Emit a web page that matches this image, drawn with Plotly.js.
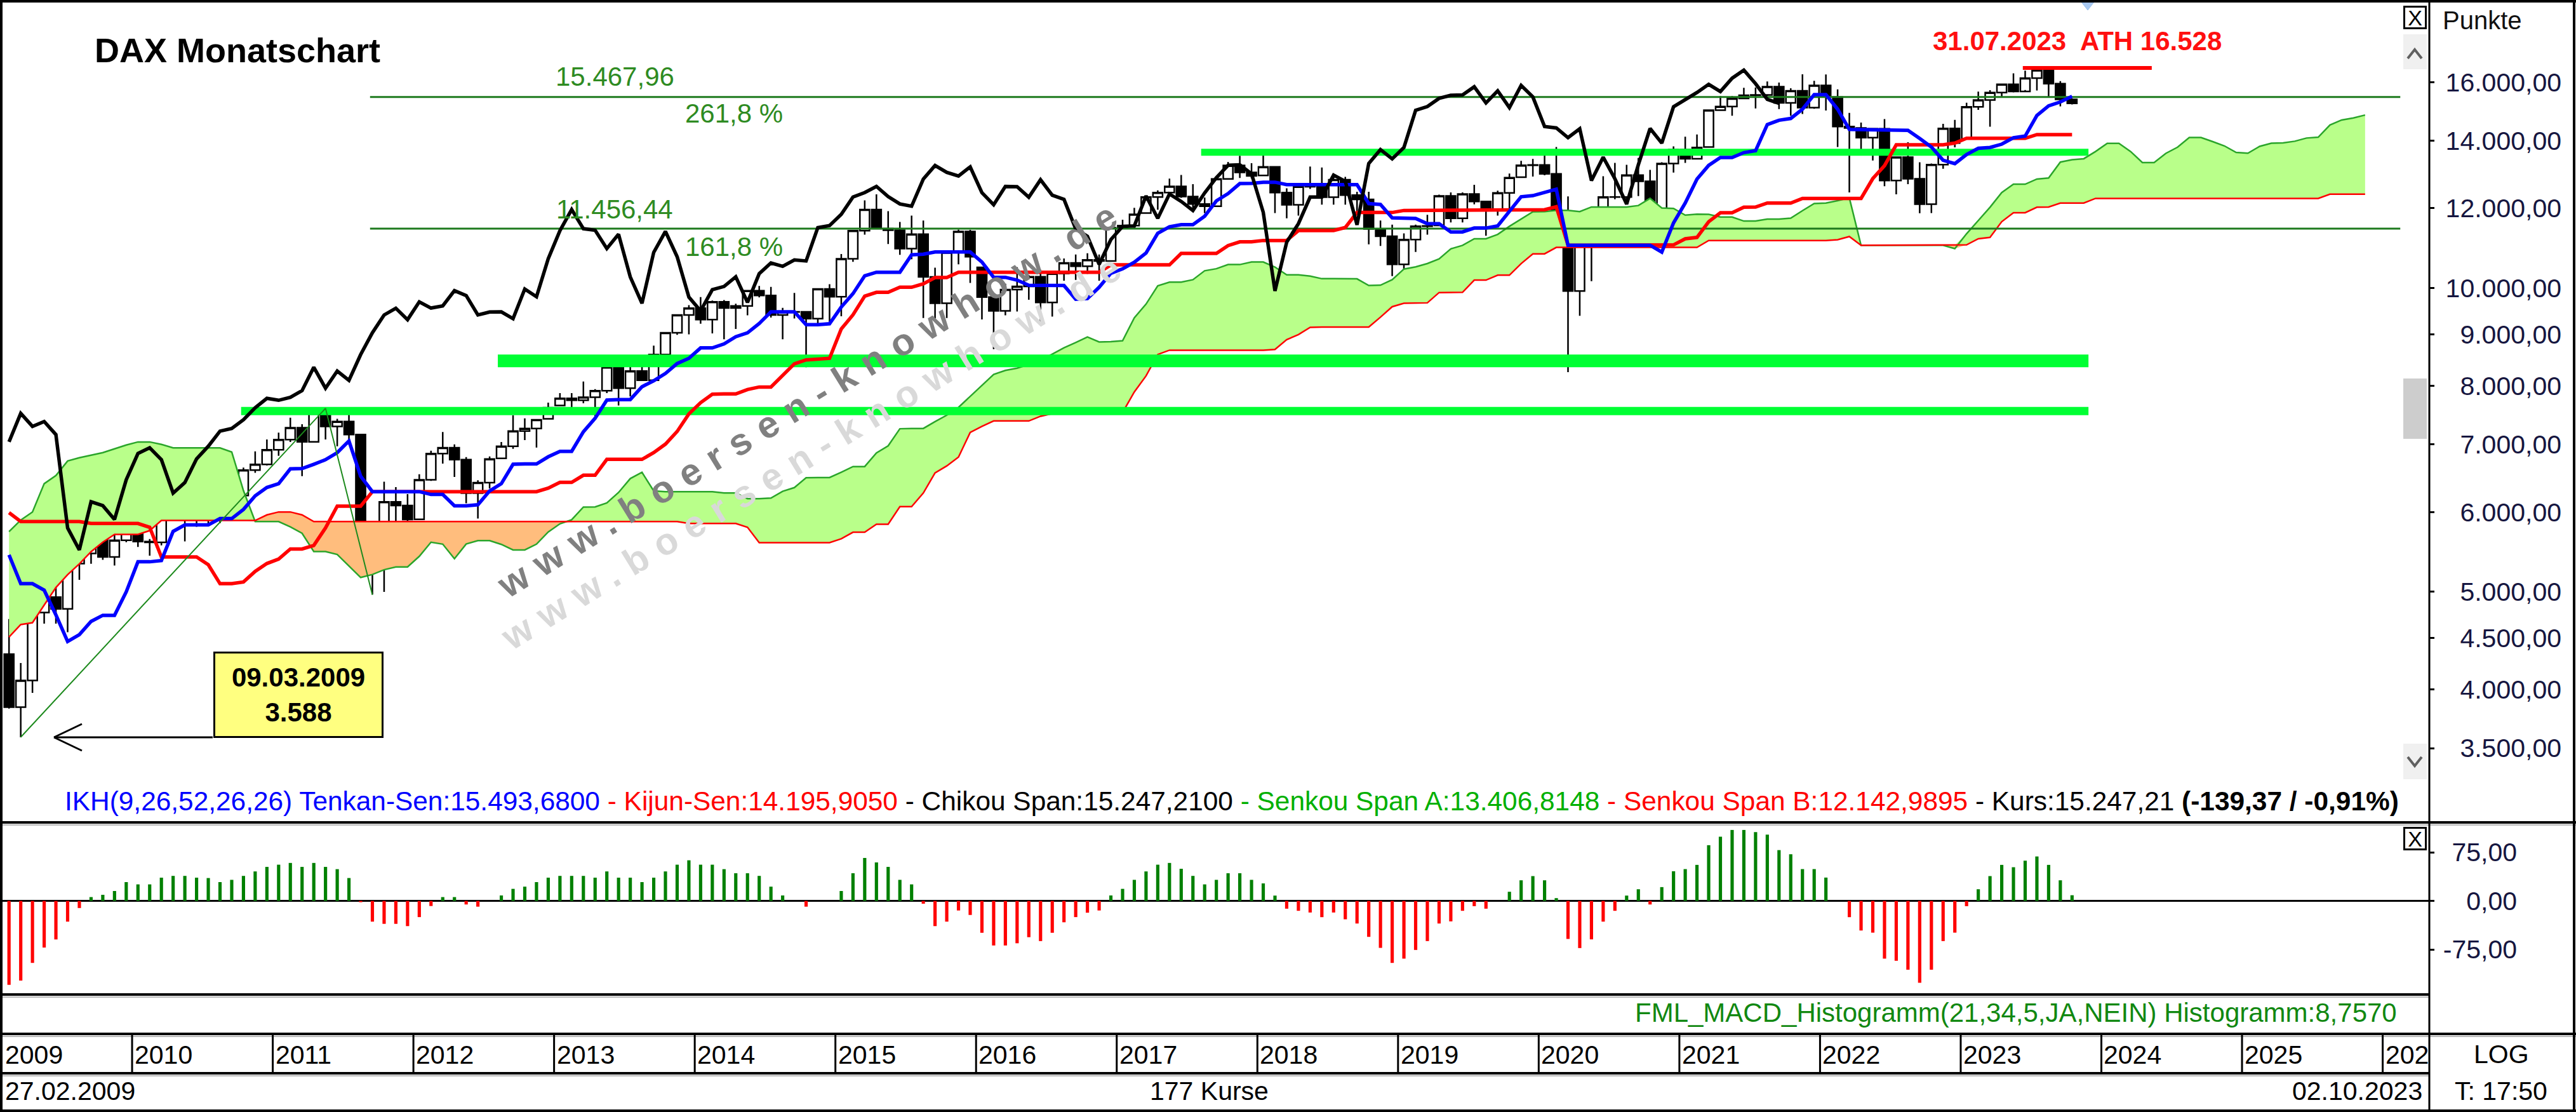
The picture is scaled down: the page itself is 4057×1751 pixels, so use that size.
<!DOCTYPE html>
<html><head><meta charset="utf-8">
<script src="https://cdn.plot.ly/plotly-3.0.1.min.js"></script>
<style>html,body{margin:0;padding:0;background:#fff;}#chart{width:4057px;height:1751px;}</style>
</head><body><div id="chart"></div>
<script>
// ---------- DATA (monthly DAX, Feb 2009 .. Oct 2023, 177 bars) ----------
const opens = [4338,3843,4085,4770,4941,4809,5332,5458,5675,5414,5625,
5957,5608,5598,6154,6136,5965,5966,6148,5925,6229,6601,6688,
6914,7077,7272,7041,7514,7294,7376,7159,5785,5502,6141,6088,
5900,6458,6856,6947,6761,6264,6416,6780,6971,7216,7260,7420,
7650,7776,7742,7795,7914,8349,7959,8276,8103,8594,9033,9406,
9552,9306,9692,9556,9603,9943,9833,9407,9470,9474,9327,9980,
9806,10694,11402,11966,11454,11414,10945,11309,10259,9660,10850,11382,
10485,9798,9495,9966,10039,10263,9680,10337,10593,10511,10665,10640,
11481,11535,11870,12313,12438,12615,12325,12118,12056,12829,13230,13024,
12935,13189,12436,12097,12612,12605,12306,12806,12364,12247,11448,11257,
10559,11173,11516,11540,12344,11727,12399,12189,11939,12428,12880,13236,
13249,12982,11890,9936,11107,11587,12311,12313,12945,12761,11560,13291,
13719,13433,13800,15008,15136,15421,15531,15544,15835,15261,15689,15100,
15885,15471,14461,14415,14098,14388,12784,13484,12835,12114,13254,14397,
14070,15128,15365,15629,15922,15664,16148,16447,15947,15387];
const highs = [4700,4250,4800,5050,5160,5340,5480,5760,5890,5810,6030,
6150,5640,6180,6340,6200,6330,6210,6390,6290,6640,6890,7080,
7190,7440,7330,7530,7600,7420,7520,7160,5880,6430,6350,6250,
6540,6900,7200,7000,6800,6450,6810,7040,7480,7430,7410,7700,
7870,7870,8080,7940,8560,8430,8400,8560,8770,9040,9420,9620,
9800,9720,9730,9650,9960,10050,10030,9560,9890,9480,9980,10090,
10810,11410,12220,12390,11920,11630,11800,11670,10480,10850,11430,11420,
10490,9880,10100,10490,10300,10430,10350,10700,10800,10830,10800,11490,
11690,12010,12320,12500,12840,12950,12680,12300,12830,13340,13530,13300,
13600,13210,12560,12660,13200,13170,12890,12890,12460,12460,11670,11560,
11330,11560,11820,12380,12440,12440,12660,12190,12490,12990,13370,13430,
13640,13800,12330,11230,11750,12910,13310,13250,13460,13100,13330,13820,
14130,14200,15020,15500,15500,15800,15810,16030,15990,15780,16290,16050,
16285,15740,14920,14590,14400,14710,13510,13950,13330,13290,14550,14680,
15270,15660,15710,15925,16330,16430,16529,16480,16040,15420];
const lows = [3830,3588,3970,4650,4650,4560,5140,5330,5380,5310,5600,
5540,5430,5560,5940,5610,5800,5810,5850,5920,6140,6560,6670,
6820,7040,6510,7030,7080,6970,7060,5420,4970,5000,5390,5600,
5900,6440,6700,6500,6120,5910,6330,6780,6930,7070,6950,7410,
7640,7520,7690,7420,7870,7650,7810,8100,8100,8400,8990,9000,
9220,9020,8900,9110,9400,9790,9350,8900,9330,8350,9190,9220,
9380,10620,11300,11440,11060,10790,10680,9340,9330,9340,10560,10120,
9310,8700,9400,9480,9740,9210,9370,10170,10190,10330,10170,10620,
11460,11480,11860,11960,12420,12290,12010,11870,12040,12810,12860,12850,
12930,11870,11730,11800,12540,12100,12100,12100,11870,11050,11010,10280,
10390,10860,11300,11540,11620,11620,12110,11270,11800,11940,12880,12900,
12940,11720,8256,9390,10160,11570,12250,12250,12340,11450,11560,13020,
13310,13430,13800,15000,14820,15400,15070,15500,15050,14820,14880,15060,
15000,13800,12440,13630,13380,12620,12390,12680,11863,11870,13130,13790,
14060,15020,14458,15480,15630,15720,15700,15460,15140,15210];
const closes = [3843,4085,4770,4941,4809,5332,5458,5675,5414,5625,5957,
5608,5598,6154,6136,5965,5966,6148,5925,6229,6601,6688,6914,
7077,7272,7041,7514,7294,7376,7159,5785,5502,6141,6088,5898,
6458,6856,6947,6761,6264,6416,6772,6971,7216,7260,7405,7612,
7776,7742,7795,7914,8349,7959,8276,8103,8594,9033,9406,9552,
9306,9692,9556,9603,9943,9833,9407,9470,9474,9327,9980,9806,
10694,11402,11966,11454,11414,10945,11309,10259,9660,10850,11382,10743,
9798,9495,9966,10039,10263,9680,10337,10593,10511,10665,10640,11481,
11535,11834,12313,12438,12615,12325,12118,12056,12829,13230,13024,12918,
13189,12436,12097,12612,12605,12306,12806,12364,12247,11448,11257,10559,
11173,11516,11526,12344,11727,12399,12189,11939,12428,12867,13236,13249,
12982,11890,9936,11107,11587,12311,12313,12945,12761,11556,13291,13719,
13433,13786,15008,15136,15421,15531,15544,15835,15261,15689,15100,15885,
15471,14461,14415,14098,14388,12784,13484,12835,12114,13254,14397,13924,
15128,15365,15629,15922,15664,16148,16447,15947,15387,15247];

const tenkan = [5440,5094,5094,5019,4744,4464,4534,4674,4739,4739,5000,
5355,5355,5370,5740,5825,5825,5825,5910,5910,6035,6225,6345,
6400,6620,6625,6690,6760,6870,7055,6510,6285,6285,6285,6285,
6285,6245,6245,6085,6085,6100,6295,6400,6690,6695,6695,6805,
6890,6890,7205,7430,7745,7755,7755,7985,8095,8230,8420,8520,
8725,8725,8805,8950,9030,9225,9475,9475,9475,9200,9200,9220,
9580,9875,10285,10370,10370,10370,10790,10805,10860,10860,10860,10860,
10615,10250,10250,10185,10065,10065,10065,10060,9750,9765,10020,10345,
10450,10610,10835,11335,11505,11560,11560,11785,12205,12410,12695,12700,
12735,12735,12665,12665,12665,12665,12665,12665,12665,12130,12105,11740,
11740,11725,11585,11585,11370,11370,11470,11470,11525,11925,12320,12350,
12455,12535,11028,11028,11028,11028,11028,11028,11028,11028,10858,11605,
12145,12825,13235,13475,13475,13625,13685,14525,14670,14730,15045,15555,
15555,15045,14365,14365,14365,14365,14340,14338,14074,13800,13390,13285,
13565,13760,13785,13890,14095,14150,14830,15160,15295,15494];
const kijun = [5990,5870,5870,5870,5870,5870,5870,5844,5844,5844,5844,
5844,5794,5414,5414,5414,5414,5319,5094,5094,5114,5239,5334,
5389,5514,5514,5559,5785,6080,6080,6080,6285,6285,6285,6285,
6285,6285,6285,6285,6285,6285,6285,6285,6285,6285,6285,6335,
6420,6420,6525,6525,6765,6765,6765,6765,6870,7005,7210,7505,
7700,7850,7855,7855,7935,7980,7980,8190,8415,8490,8500,8520,
9110,9410,9820,9905,9905,10020,10020,10100,10245,10245,10370,10370,
10370,10370,10370,10370,10370,10370,10370,10370,10370,10370,10370,10545,
10545,10545,10545,10545,10545,10825,10825,10825,10825,11020,11115,11115,
11150,11150,11150,11405,11405,11405,11405,11485,11885,11885,11885,11885,
11940,11940,11940,11940,11940,11940,11940,11940,11940,11940,11940,11940,
11960,12040,11028,11028,11028,11028,11028,11028,11028,11028,11028,11038,
11193,11228,11638,11878,11878,12028,12033,12143,12143,12143,12273,12273,
12273,12273,12273,12273,12840,13225,13870,13870,13870,13870,13870,13925,
14077,14077,14077,14077,14077,14077,14196,14196,14196,14196];
// Senkou spans, drawn 25 bars ahead (202 positions)
const senkouA = [5737,5890,6000,6400,6520,6740,6790,6830,6870,6930,6990,7040,7040,7000,6945,6945,6945,6945,6945,6880,6300,5870,5870,5870,5800,
5715,5482,5482,5445,5307,5167,5202,5259,5292,5292,
5422,5600,5575,5392,5577,5620,5620,5572,5502,5502,
5575,5732,5840,5895,6067,6070,6125,6273,6475,6568,
6295,6285,6285,6285,6285,6285,6265,6265,6185,6185,
6193,6290,6343,6488,6490,6490,6570,6655,6655,6865,
6978,7255,7260,7260,7375,7483,7618,7815,8013,8213,
8288,8330,8403,8483,8603,8728,8833,8945,8845,8850,
8870,9345,9643,10053,10138,10138,10195,10405,10453,10553,
10553,10615,10615,10493,10310,10310,10278,10218,10218,10218,
10215,10060,10068,10195,10445,10498,10578,10690,10940,11025,
11193,11193,11305,11515,11715,11905,11908,11943,11943,11908,
12035,12035,12035,12035,12075,12275,12008,11995,11813,11840,
11833,11763,11763,11655,11655,11705,11705,11733,11933,12130,
12145,12208,12288,11028,11028,11028,11028,11028,11028,11028,
11028,10943,11322,11669,12027,12437,12677,12677,12827,12859,
13334,13407,13437,13659,13914,13914,13659,13319,13319,13603,
13795,14105,14104,13972,13835,13630,13605,13821,13919,13931,
13984,14086,14114,14513,14678,14746,14845];
const senkouB = [4510,4640,4660,4850,5050,5200,5330,5480,5600,5700,5700,5700,5750,5885,5885,5885,5885,5885,5885,5885,5885,5885,5960,6000,6000,5960,
5870,5870,5870,5870,5870,5870,5870,5870,
5870,5870,5870,5870,5870,5870,5870,5870,
5870,5870,5870,5870,5870,5870,5870,5870,
5870,5870,5870,5870,5870,5870,5870,5870,
5844,5844,5844,5844,5844,5794,
5594,5594,5594,5594,5594,5594,5594,
5644,5729,5729,5834,5834,6074,6074,6265,
6560,6665,6800,7195,7295,7385,7385,7385,7385,7465,
7510,7510,7510,7510,7510,7510,
7530,7890,8185,8595,
8680,8680,8680,8680,8680,8680,8680,8680,8680,
8695,8890,8995,9145,
9150,9150,9150,9150,9150,
9360,9585,9660,9670,9670,9900,9905,9905,10185,10185,10300,10300,10575,10815,10815,
10975,10975,10975,10975,10975,10975,10975,10975,10975,10975,10975,10975,10975,
11150,11150,11150,11150,11150,11150,11150,11150,11150,11150,11150,
11170,11250,
11028,11028,11028,11028,11028,11028,11028,11028,11028,
11038,11193,11228,11638,11878,11878,12028,12033,
12143,12143,12143,
12273,12273,12273,12273,12273,12273,12273,12273,12273,12273,
12273,12273,12273,12273,12273,12273,12273,12273,12273,12273,
12392,12392,12392,12392];
// FML_MACD histogram (21,34,5)
const macdHist = [-129.5,-123,-95.7,-72,-59.5,-32,-11,5.9,9.4,15.3,29,
25.5,25.5,35.9,38.6,38.6,35.9,35.3,29,32.5,38.6,45.5,52.5,
55.9,58.6,52.5,58.6,52.5,49,35.3,-2,-32,-35.4,-35.4,-38.9,
-25,-7.9,5.9,5.9,-5.5,-8.9,0,8.4,18.6,22,29,35.9,
38.6,38.6,38.6,35.9,45.5,35.9,35.9,29,35.9,45.5,55.9,62.7,
55.9,55.9,49,42.7,42.7,38.6,22,8.4,0,-8.9,0,0,
15.3,42.7,66.3,59.4,52.5,32.5,25.5,-4.3,-38.9,-32,-14.8,-21.7,
-49.2,-68.8,-68.8,-65.4,-56,-62,-49.2,-33,-25,-18.2,-14.8,8.4,
18.6,32.5,45.5,55.9,58.6,49.6,38.6,25.5,32.5,42.7,42.7,32.5,
27,8.2,-12,-15.3,-17.9,-25.1,-17.9,-28.4,-34.9,-55.5,-72.5,-95.7,
-89.1,-75.7,-62,-34.9,-31.6,-15.3,-8.1,-12,0,14.1,31.8,38.3,
31.8,4.3,-58.7,-72.8,-59.4,-32,-15.3,8.2,18,-5.5,21.3,45.8,
49.1,55.6,86,99.1,109.5,109.5,106.2,102.3,78.4,72,49.1,49.1,
36,0,-25.1,-45.7,-49,-89.1,-92.4,-106.2,-126.4,-106.2,-62,-49,
-8.1,18,38.3,55.6,52,62.1,68.6,55.6,31.8,8.76];

// horizontal levels
const bandLevels = [13635, 8470, 7555];
const bandFrom = [101.7, 41.7, 19.8];
const bandTo = [177.4, 177.4, 177.4];
const fibLevels = [15467.96, 11456.44];
const fibValueText = ['15.467,96', '11.456,44'];
const fibPctText = ['261,8 %', '161,8 %'];
const fibFrom = 30.8, fibTo = 204.0;
const athLevel = 16528, athFrom = 171.8, athTo = 182.8;
const zigX = [1, 27, 31];
const zigY = [3588.89, 7600.41, 4965.80];

const yTickVals = [3500,4000,4500,5000,6000,7000,8000,9000,10000,12000,14000,16000];
const yTickText = ['3.500,00','4.000,00','4.500,00','5.000,00','6.000,00','7.000,00','8.000,00','9.000,00','10.000,00','12.000,00','14.000,00','16.000,00'];
const macdTickVals = [-75, 0, 75];
const macdTickText = ['-75,00', '0,00', '75,00'];
const years = ['2009','2010','2011','2012','2013','2014','2015','2016','2017','2018','2019','2020','2021','2022','2023','2024','2025','202'];

// ---------- GEOMETRY / STYLE ----------
const W = 4057, H = 1751;
const PX = v => v / W, PY = v => 1 - v / H;
const XR = [-0.5525, 206.479];
const FONT = 'Liberation Sans, Arial, Helvetica, sans-serif';

const candleX = closes.map((_, i) => i);
const cloudX = senkouA.map((_, j) => j);
const chikouY = closes.slice(25);
const chikouX = chikouY.map((_, k) => k);
const cloudUpper = senkouA.map((a, j) => Math.max(a, senkouB[j]));
const cloudLower = senkouA.map((a, j) => Math.min(a, senkouB[j]));

const base = {type: 'scatter', mode: 'lines', hoverinfo: 'skip', showlegend: false, xaxis: 'x', yaxis: 'y'};
const clear = {width: 0, color: 'rgba(0,0,0,0)'};
const traces = [];
traces.push(Object.assign({}, base, {x: cloudX, y: senkouB, line: clear}));
traces.push(Object.assign({}, base, {x: cloudX, y: cloudUpper, fill: 'tonexty', fillcolor: '#b9ff8a', line: clear}));
traces.push(Object.assign({}, base, {x: cloudX, y: senkouB, line: clear}));
traces.push(Object.assign({}, base, {x: cloudX, y: cloudLower, fill: 'tonexty', fillcolor: '#ffbd7d', line: clear}));
traces.push(Object.assign({}, base, {x: cloudX, y: senkouA, line: {color: '#2aa52a', width: 2.5}}));
traces.push(Object.assign({}, base, {x: cloudX, y: senkouB, line: {color: '#ff0000', width: 2.5}}));
const bandWidthPx = [11, 20, 13];
bandLevels.forEach((lv, k) => traces.push(Object.assign({}, base, {x: [bandFrom[k], bandTo[k]], y: [lv, lv], line: {color: '#00ff33', width: bandWidthPx[k]}})));
fibLevels.forEach(lv => traces.push(Object.assign({}, base, {x: [fibFrom, fibTo], y: [lv, lv], line: {color: '#1d7a1d', width: 3}})));
traces.push({type: 'candlestick', x: candleX, open: opens, high: highs, low: lows, close: closes,
  increasing: {line: {color: '#000', width: 2.5}, fillcolor: '#ffffff'},
  decreasing: {line: {color: '#000', width: 2.5}, fillcolor: '#000000'},
  whiskerwidth: 0, hoverinfo: 'skip', showlegend: false, xaxis: 'x', yaxis: 'y'});
traces.push(Object.assign({}, base, {x: candleX, y: kijun, line: {color: '#ff0000', width: 5.5}}));
traces.push(Object.assign({}, base, {x: candleX, y: tenkan, line: {color: '#0000ff', width: 5.5}}));
traces.push(Object.assign({}, base, {x: chikouX, y: chikouY, line: {color: '#000000', width: 5.5}}));
traces.push(Object.assign({}, base, {x: zigX, y: zigY, line: {color: '#1d8a1d', width: 2}}));
traces.push(Object.assign({}, base, {x: [athFrom, athTo], y: [athLevel, athLevel], line: {color: '#ff0000', width: 6}}));
traces.push({type: 'bar', x: candleX, y: macdHist, width: 0.28,
  marker: {color: macdHist.map(v => v >= 0 ? '#008000' : '#ff0000'), line: {width: 0}},
  hoverinfo: 'skip', showlegend: false, xaxis: 'x2', yaxis: 'y2'});
traces.push({type: 'scatter', mode: 'lines', x: [], y: [], xaxis: 'x', yaxis: 'y3', showlegend: false});
traces.push({type: 'scatter', mode: 'lines', x: [], y: [], xaxis: 'x2', yaxis: 'y4', showlegend: false});

// ---------- SHAPES ----------
const shapes = [];
const hline = (x0, x1, y, w, c) => shapes.push({type: 'line', xref: 'paper', yref: 'paper', x0: PX(x0), x1: PX(x1), y0: PY(y), y1: PY(y), line: {color: c, width: w}});
const vline = (x, y0, y1, w, c) => shapes.push({type: 'line', xref: 'paper', yref: 'paper', x0: PX(x), x1: PX(x), y0: PY(y0), y1: PY(y1), line: {color: c, width: w}});
const rect = (x0, y0, x1, y1, fill, lc, lw) => shapes.push({type: 'rect', xref: 'paper', yref: 'paper', x0: PX(x0), x1: PX(x1), y0: PY(y1), y1: PY(y0), fillcolor: fill, line: {color: lc, width: lw}, layer: 'above'});
const path = (pts, stroke, w, fill) => shapes.push({type: 'path', xref: 'paper', yref: 'paper', path: 'M' + pts.map(p => PX(p[0]) + ',' + PY(p[1])).join(' L') + (fill ? ' Z' : ''), line: {color: stroke, width: w}, fillcolor: fill || 'rgba(0,0,0,0)', layer: 'above'});

// scroll widgets & close boxes
rect(3785, 54, 3822, 109, '#f0f0f0', '#f0f0f0', 0);
path([[3792, 92], [3803, 78], [3814, 92]], '#606060', 4);
rect(3785, 596, 3822, 691, '#cdcdcd', '#cdcdcd', 0);
rect(3785, 1171, 3822, 1227, '#f0f0f0', '#f0f0f0', 0);
path([[3792, 1192], [3803, 1206], [3814, 1192]], '#606060', 4);
path([[3277, 2], [3299, 2], [3288, 16]], '#9cc3ee', 1, '#a8c8f0');
// arrow to the March-2009 low
hline(85, 335, 1161, 3, '#000');
shapes.push({type: 'line', xref: 'paper', yref: 'paper', x0: PX(85), y0: PY(1161), x1: PX(129), y1: PY(1140), line: {color: '#000', width: 3}});
shapes.push({type: 'line', xref: 'paper', yref: 'paper', x0: PX(85), y0: PY(1161), x1: PX(129), y1: PY(1182), line: {color: '#000', width: 3}});
// frame & separators
hline(0, W, 1299, 2, '#b8b8b8');
hline(0, 3826, 1570, 2, '#b8b8b8');
hline(0, W, 1632, 2, '#b8b8b8');
hline(0, 3826, 1694, 2, '#b8b8b8');
hline(0, W, 1295, 4, '#000');
hline(0, 3826, 1566, 4, '#000');
hline(0, W, 1628, 4, '#000');
hline(0, 3826, 1690, 4, '#000');
hline(0, W, 2, 4, '#000');
hline(0, W, 1749, 4, '#000');
vline(2, 0, H, 4, '#000');
vline(4054, 0, H, 4, '#000');
vline(3826, 0, H, 3, '#000');
// year dividers
years.forEach((yr, k) => {
  const b = 12 * k - 1.5;
  if (b > XR[0]) shapes.push({type: 'line', xref: 'x', yref: 'paper', x0: b, x1: b, y0: PY(1690), y1: PY(1628), line: {color: '#000', width: 3}});
});

// ---------- ANNOTATIONS ----------
const annotations = [];
const ann = (text, x, y, o) => annotations.push(Object.assign({text: text, xref: 'paper', yref: 'paper', x: PX(x), y: PY(y), showarrow: false, xanchor: 'center', yanchor: 'middle', font: {family: FONT, size: 41, color: '#000'}}, o || {}));
ann('<b>DAX Monatschart</b>', 147, 79, {xanchor: 'left', font: {family: FONT, size: 54, color: '#000'}});
ann(fibValueText[0], 968, 120, {font: {family: FONT, size: 42, color: '#2e8b22'}});
ann(fibPctText[0], 1156, 178, {font: {family: FONT, size: 42, color: '#2e8b22'}});
ann(fibValueText[1], 968, 330, {font: {family: FONT, size: 42, color: '#2e8b22'}});
ann(fibPctText[1], 1156, 388, {font: {family: FONT, size: 42, color: '#2e8b22'}});
ann('<b>31.07.2023  ATH 16.528</b>', 3271, 65, {font: {family: FONT, size: 42, color: '#ff1010'}});
ann('<b>09.03.2009</b><br><b>3.588</b>', 469.5, 1093.5, {width: 262, height: 130, bgcolor: '#ffff80', bordercolor: '#000', borderwidth: 3, borderpad: 0, font: {family: FONT, size: 42, color: '#000'}});
ann('www.boersen-knowhow.de', 1285, 708, {textangle: -31.5, font: {family: FONT, size: 59, color: '#d9d9d9', weight: 'bold'}});
ann('www.boersen-knowhow.de', 1279, 626, {textangle: -31.5, font: {family: FONT, size: 59, color: '#808080', weight: 'bold'}});
ann('<span style="color:#0000ff">IKH(9,26,52,26,26) Tenkan-Sen:15.493,6800</span><span style="color:#ff0000"> - Kijun-Sen:14.195,9050</span><span style="color:#000000"> - Chikou Span:15.247,2100</span><span style="color:#00b000"> - Senkou Span A:13.406,8148</span><span style="color:#ff0000"> - Senkou Span B:12.142,9895</span><span style="color:#000000"> - Kurs:15.247,21 <b>(-139,37 / -0,91%)</b></span>', 100, 1261, {xanchor: 'left', font: {family: FONT, size: 42.4, color: '#000'}});
ann('FML_MACD_Histogramm(21,34,5,JA,NEIN) Histogramm:8,7570', 3777, 1594, {xanchor: 'right', font: {family: FONT, size: 42, color: '#118811'}});
ann('Punkte', 3845, 32, {xanchor: 'left', font: {family: FONT, size: 40, color: '#111'}});
ann('X', 3803, 27, {width: 31, height: 31, bgcolor: '#fff', bordercolor: '#000', borderwidth: 3, borderpad: 0, font: {family: FONT, size: 34, color: '#000'}});
ann('X', 3803, 1320, {width: 31, height: 31, bgcolor: '#fff', bordercolor: '#000', borderwidth: 3, borderpad: 0, font: {family: FONT, size: 34, color: '#000'}});
ann('27.02.2009', 6, 1718, {xanchor: 'left'});
ann('177 Kurse', 1904, 1718);
ann('02.10.2023', 3817, 1718, {xanchor: 'right'});
ann('LOG', 3939, 1660);
ann('T: 17:50', 3939, 1718);
years.forEach((yr, k) => annotations.push({text: yr, xref: 'x', yref: 'paper', x: Math.max(12 * k - 1.5, XR[0]), y: PY(1661), xanchor: 'left', yanchor: 'middle', xshift: 2, showarrow: false, font: {family: FONT, size: 41, color: '#000'}}));

const tickFont = {family: FONT, size: 41, color: '#161640'};
const layout = {
  width: W, height: H, margin: {l: 0, r: 0, t: 0, b: 0, pad: 0},
  paper_bgcolor: '#ffffff', plot_bgcolor: '#ffffff', showlegend: false,
  font: {family: FONT, size: 41, color: '#000'},
  boxgap: 0.18, boxgroupgap: 0,
  xaxis: {domain: [PX(4), PX(3826)], range: XR, visible: false, fixedrange: true, rangeslider: {visible: false}, anchor: 'y'},
  yaxis: {domain: [PY(1292), PY(5)], type: 'log', range: [3.47232, 4.28247], side: 'left', anchor: 'free', position: PX(4034),
    showgrid: false, zeroline: false, showline: false, ticks: '', tickmode: 'array', tickvals: yTickVals, ticktext: yTickText, tickfont: tickFont},
  xaxis2: {domain: [PX(4), PX(3826)], range: XR, visible: false, fixedrange: true, anchor: 'y2'},
  yaxis2: {domain: [PY(1566), PY(1297)], range: [-144.5, 119.2], side: 'left', anchor: 'free', position: PX(3964),
    showgrid: false, zeroline: true, zerolinecolor: '#000', zerolinewidth: 3, showline: false, ticks: '', tickmode: 'array', tickvals: macdTickVals, ticktext: macdTickText, tickfont: tickFont},
  yaxis3: {overlaying: 'y', side: 'right', anchor: 'x', type: 'log', range: [3.47232, 4.28247], showgrid: false, zeroline: false, showline: false,
    showticklabels: false, ticks: 'outside', ticklen: 7, tickwidth: 3, tickcolor: '#000', tickmode: 'array', tickvals: yTickVals},
  yaxis4: {overlaying: 'y2', side: 'right', anchor: 'x2', range: [-144.5, 119.2], showgrid: false, zeroline: false, showline: false,
    showticklabels: false, ticks: 'outside', ticklen: 7, tickwidth: 3, tickcolor: '#000', tickmode: 'array', tickvals: macdTickVals},
  shapes: shapes, annotations: annotations
};

Plotly.newPlot('chart', traces, layout, {staticPlot: true, displayModeBar: false}).then(gd => {
  gd.querySelectorAll('text.annotation-text').forEach(t => {
    if (t.textContent.indexOf('boersen') >= 0) t.style.letterSpacing = '18px';
  });
});
</script></body></html>
